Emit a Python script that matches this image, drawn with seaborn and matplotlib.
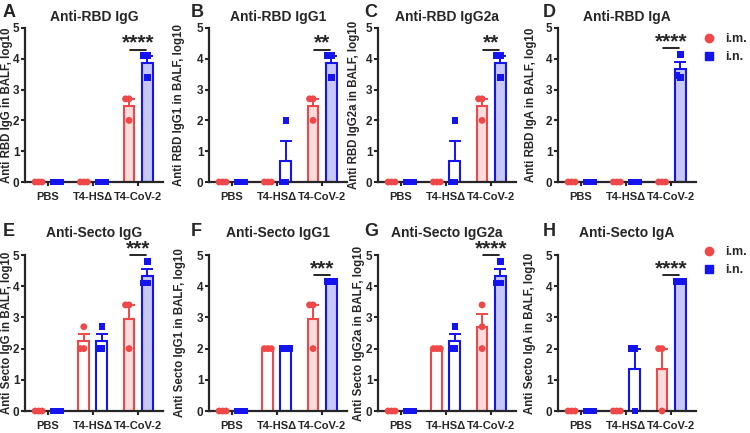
import numpy as np
import pandas as pd
import matplotlib.pyplot as plt
import seaborn as sns
from matplotlib.lines import Line2D
from matplotlib.transforms import Affine2D

groups = ['PBS', 'T4-HSΔ', 'T4-CoV-2']
routes = ['i.m.', 'i.n.']

# log10 titres in BALF, 3 mice per group (PBS, T4-HSΔ, T4-CoV-2)
rbd_igg_im = [[0, 0, 0], [0, 0, 0], [2.7, 2.7, 2.0]]
rbd_igg_in = [[0, 0, 0], [0, 0, 0], [4.1, 4.1, 3.4]]
rbd_igg1_im = [[0, 0, 0], [0, 0, 0], [2.7, 2.7, 2.0]]
rbd_igg1_in = [[0, 0, 0], [0, 0, 2.0], [4.1, 4.1, 3.4]]
rbd_igg2a_im = [[0, 0, 0], [0, 0, 0], [2.7, 2.7, 2.0]]
rbd_igg2a_in = [[0, 0, 0], [0, 0, 2.0], [4.1, 4.1, 3.4]]
rbd_iga_im = [[0, 0, 0], [0, 0, 0], [0, 0, 0]]
rbd_iga_in = [[0, 0, 0], [0, 0, 0], [4.15, 3.45, 3.4]]

secto_igg_im = [[0, 0, 0], [2.7, 2.0, 2.0], [3.4, 3.4, 2.0]]
secto_igg_in = [[0, 0, 0], [2.7, 2.0, 2.0], [4.8, 4.1, 4.1]]
secto_igg1_im = [[0, 0, 0], [2.0, 2.0, 2.0], [3.4, 3.4, 2.0]]
secto_igg1_in = [[0, 0, 0], [2.0, 2.0, 2.0], [4.15, 4.15, 4.15]]
secto_igg2a_im = [[0, 0, 0], [2.0, 2.0, 2.0], [3.4, 2.7, 2.0]]
secto_igg2a_in = [[0, 0, 0], [2.7, 2.0, 2.0], [4.8, 4.1, 4.1]]
secto_iga_im = [[0, 0, 0], [0, 0, 0], [2.0, 2.0, 0]]
secto_iga_in = [[0, 0, 0], [2.0, 2.0, 0], [4.15, 4.15, 4.15]]

panels = [
    ('A', 'Anti-RBD IgG', 'Anti RBD IgG in BALF, log10', rbd_igg_im, rbd_igg_in, '****'),
    ('B', 'Anti-RBD IgG1', 'Anti RBD IgG1 in BALF, log10', rbd_igg1_im, rbd_igg1_in, '**'),
    ('C', 'Anti-RBD IgG2a', 'Anti RBD IgG2a in BALF, log10', rbd_igg2a_im, rbd_igg2a_in, '**'),
    ('D', 'Anti-RBD IgA', 'Anti RBD IgA in BALF, log10', rbd_iga_im, rbd_iga_in, '****'),
    ('E', 'Anti-Secto IgG', 'Anti Secto IgG in BALF, log10', secto_igg_im, secto_igg_in, '***'),
    ('F', 'Anti-Secto IgG1', 'Anti Secto IgG1 in BALF, log10', secto_igg1_im, secto_igg1_in, '***'),
    ('G', 'Anti-Secto IgG2a', 'Anti Secto IgG2a in BALF, log10', secto_igg2a_im, secto_igg2a_in, '****'),
    ('H', 'Anti-Secto IgA', 'Anti Secto IgA in BALF, log10', secto_iga_im, secto_iga_in, '****'),
]

colors = {'i.m.': '#F04848', 'i.n.': '#1414EE'}
fills = {'i.m.': '#FCDCDC', 'i.n.': '#C8C8F8'}
markers = {'i.m.': 'o', 'i.n.': 's'}

sns.set_style('ticks')
plt.rcParams['font.family'] = ['Liberation Sans', 'DejaVu Sans']
plt.rcParams['font.weight'] = 'bold'
plt.rcParams['axes.labelweight'] = 'bold'
plt.rcParams['axes.titleweight'] = 'bold'

W, H = 750, 433
fig = plt.figure(figsize=(7.5, 4.33), dpi=100)

# layout in pixels
col_left = [25, 209, 378, 558]
ax_w = 138
row_top = [28, 255]
row_bot = [182, 411]
letter_x = [3, 191, 364, 543]
letter_y = [4, 223]
ylab_x = [[8.5, 180, 355, 532], [8, 181, 360, 531]]
title_pad = [5, 13]
legend_y = [1.0, 1.09]


def make_df(im, inn):
    rows = []
    for g, vi, vn in zip(groups, im, inn):
        rows += [(g, 'i.m.', v) for v in vi]
        rows += [(g, 'i.n.', v) for v in vn]
    return pd.DataFrame(rows, columns=['group', 'route', 'value'])


for i, (letter, title, ylab, im, inn, stars) in enumerate(panels):
    r, c = divmod(i, 4)
    ax = fig.add_axes([col_left[c] / W, 1 - row_bot[r] / H,
                       ax_w / W, (row_bot[r] - row_top[r]) / H])
    df = make_df(im, inn)

    sns.barplot(data=df, x='group', y='value', hue='route', order=groups,
                hue_order=routes, errorbar=None, width=0.8, gap=0.4,
                legend=False, ax=ax)
    centers = {}
    for route, cont in zip(routes, ax.containers):
        for g, bar in zip(groups, cont):
            bar.set_facecolor(fills[route] if g == 'T4-CoV-2' else 'white')
            bar.set_edgecolor(colors[route])
            bar.set_linewidth(1.5)
            centers[(route, g)] = bar.get_x() + bar.get_width() / 2

    # one-sided SEM bars like Prism
    stats = df.groupby(['route', 'group'])['value'].agg(['mean', 'sem'])
    for route in routes:
        for g in groups:
            m, s = stats.loc[(route, g)]
            if s > 0:
                ax.errorbar(centers[(route, g)], m, yerr=[[0], [s]], fmt='none',
                            ecolor=colors[route], elinewidth=1.4, capsize=4.5,
                            capthick=1.4, zorder=2)

    for route in routes:
        n0 = len(ax.collections)
        sns.swarmplot(data=df[df.route == route], x='group', y='value',
                      hue='route', order=groups, hue_order=routes,
                      palette=colors, dodge=True, marker=markers[route],
                      size=2.4, linewidth=0, legend=False, ax=ax)
        for coll in ax.collections[n0:]:
            coll.set_paths([p.transformed(Affine2D().scale(2.05))
                            for p in coll.get_paths()])
            coll.set_clip_on(False)
            coll.set_zorder(4)

    # significance between routes for T4-CoV-2
    top = df[df.group == 'T4-CoV-2']['value'].max() + 0.2
    x0 = centers[('i.m.', 'T4-CoV-2')] + 0.03
    x1 = centers[('i.n.', 'T4-CoV-2')] - 0.03
    ax.plot([x0, x1], [top, top], color='black', lw=1.2, clip_on=False)
    ax.text(2, top - 0.1, stars, ha='center', va='bottom', fontsize=15,
            fontweight='bold')

    ax.set_xlim(-0.5, 2.55)
    ax.set_ylim(0, 5)
    ax.set_yticks(range(6))
    ax.set_xlabel('')
    ax.set_ylabel(ylab, fontsize=8.3, fontweight='bold')
    ax.yaxis.set_label_coords((ylab_x[r][c] + 5 - col_left[c]) / ax_w, 0.5)
    ax.set_title(title, fontsize=10, fontweight='bold', pad=title_pad[r])
    sns.despine(ax=ax)
    for sp in ['left', 'bottom']:
        ax.spines[sp].set_linewidth(1.6)
    ax.tick_params(width=1.5, length=3, labelsize=8.5, pad=1)
    ax.tick_params(axis='x', labelsize=8, pad=4)

    fig.text(letter_x[c] / W, 1 - letter_y[r] / H, letter, fontsize=13,
             fontweight='bold', ha='left', va='top')

    if c == 3:
        handles = [Line2D([], [], ls='none', marker=markers[rt], color=colors[rt],
                          markersize=6) for rt in routes]
        ax.legend(handles, routes, loc='upper left',
                  bbox_to_anchor=(1.02, legend_y[r]),
                  frameon=False, handlelength=0.8, handletextpad=0.9,
                  borderaxespad=0, prop={'weight': 'bold', 'size': 9})

fig.savefig('out.png', dpi=100)
